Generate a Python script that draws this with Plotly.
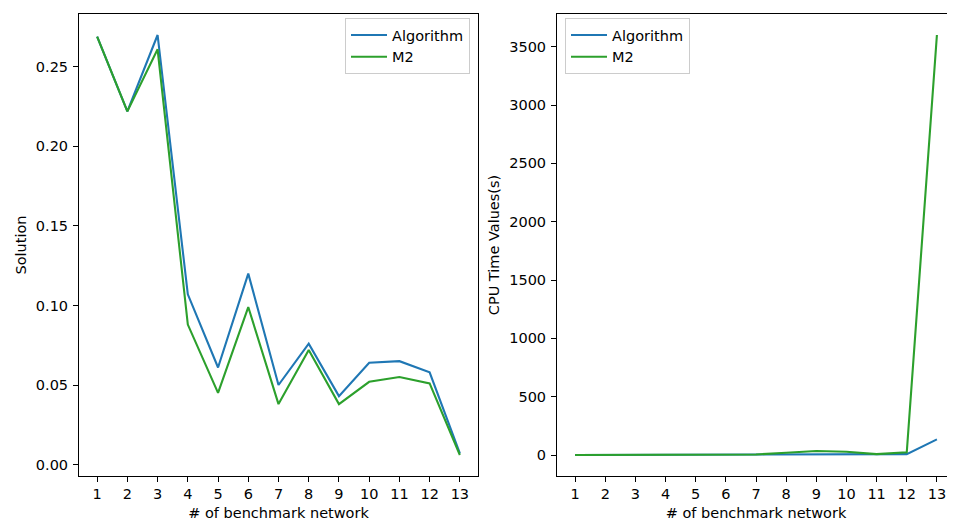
import plotly.graph_objects as go

networks = list(range(1, 14))
tick_labels = [str(n) for n in networks]

solution_algorithm = [0.269, 0.222, 0.270, 0.107, 0.061, 0.120, 0.050, 0.076, 0.043, 0.064, 0.065, 0.058, 0.007]
solution_m2 = [0.269, 0.222, 0.261, 0.088, 0.045, 0.099, 0.038, 0.072, 0.038, 0.052, 0.055, 0.051, 0.006]

cpu_algorithm = [0.5, 0.6, 0.8, 1.0, 1.5, 2.0, 3.0, 5.0, 6.0, 6.0, 5.0, 8.0, 134.0]
cpu_m2 = [0.3, 0.5, 0.6, 1.0, 1.5, 3.0, 5.0, 20.0, 34.0, 28.0, 8.0, 23.0, 3600.0]

BLUE = "#1f77b4"
GREEN = "#2ca02c"
FONT = "DejaVu Sans"
FS = 14.5

# page has an 8px body margin, so the figure is placed at (8, 8)
OFF = 8
W, H = 955 - OFF, 521 - OFF
ML, MR, MT, MB = 79 - OFF, 0, 14 - OFF, 521 - 476
PW = W - ML - MR
PH = H - MT - MB

fig = go.Figure()
fig.add_trace(go.Scatter(x=networks, y=solution_algorithm, mode="lines", name="Algorithm",
                         line=dict(color=BLUE, width=2.1), xaxis="x", yaxis="y", legend="legend"))
fig.add_trace(go.Scatter(x=networks, y=solution_m2, mode="lines", name="M2",
                         line=dict(color=GREEN, width=2.1), xaxis="x", yaxis="y", legend="legend"))
fig.add_trace(go.Scatter(x=networks, y=cpu_algorithm, mode="lines", name="Algorithm",
                         line=dict(color=BLUE, width=2.1), xaxis="x2", yaxis="y2", legend="legend2"))
fig.add_trace(go.Scatter(x=networks, y=cpu_m2, mode="lines", name="M2",
                         line=dict(color=GREEN, width=2.1), xaxis="x2", yaxis="y2", legend="legend2"))

axis_common = dict(showgrid=False, zeroline=False, showline=True, linecolor="black", linewidth=1,
                   ticks="outside", ticklen=5, tickwidth=1, tickcolor="black",
                   tickfont=dict(family=FONT, size=FS, color="black"), automargin=False)

d1 = [0, (478 - 79) / PW]
d2 = [(557 - 79) / PW, 1.0]

def lo_hi(vals_a, vals_b):
    lo = min(min(vals_a), min(vals_b))
    hi = max(max(vals_a), max(vals_b))
    pad = (hi - lo) * 0.05
    return [lo - pad, hi + pad]

fig.update_layout(
    width=W, height=H,
    margin=dict(l=ML, r=MR, t=MT, b=MB, pad=0),
    paper_bgcolor="white", plot_bgcolor="white",
    font=dict(family=FONT, size=FS, color="black"),
    xaxis=dict(domain=d1, range=[0.4, 13.6], tickvals=networks, ticktext=tick_labels, mirror=True,
               title=dict(text="# of benchmark network", font=dict(family=FONT, size=FS), standoff=8),
               anchor="y", **axis_common),
    yaxis=dict(domain=[0, 1], range=lo_hi(solution_algorithm, solution_m2), dtick=0.05, tickformat=".2f",
               mirror=True, ticklabelstandoff=2,
               title=dict(text="Solution", font=dict(family=FONT, size=FS), standoff=5),
               anchor="x", **axis_common),
    xaxis2=dict(domain=d2, range=[0.4, 13.6], tickvals=networks, ticktext=tick_labels, mirror=True,
                title=dict(text="# of benchmark network", font=dict(family=FONT, size=FS), standoff=8),
                anchor="y2", **axis_common),
    yaxis2=dict(domain=[0, 1], range=lo_hi(cpu_algorithm, cpu_m2), dtick=500, tickformat="d",
                mirror=False, ticklabelstandoff=2,
                title=dict(text="CPU Time Values(s)", font=dict(family=FONT, size=FS), standoff=6),
                anchor="x2", **axis_common),
    legend=dict(x=(470 - 79) / PW, y=1 - 4 / PH, xanchor="right", yanchor="top",
                bgcolor="white", bordercolor="#cccccc", borderwidth=1,
                font=dict(family=FONT, size=FS), itemwidth=36, tracegroupgap=0),
    legend2=dict(x=(565 - 79) / PW, y=1 - 4 / PH, xanchor="left", yanchor="top",
                 bgcolor="white", bordercolor="#cccccc", borderwidth=1,
                 font=dict(family=FONT, size=FS), itemwidth=36, tracegroupgap=0),
    showlegend=True,
)

fig.write_html("out.html")
